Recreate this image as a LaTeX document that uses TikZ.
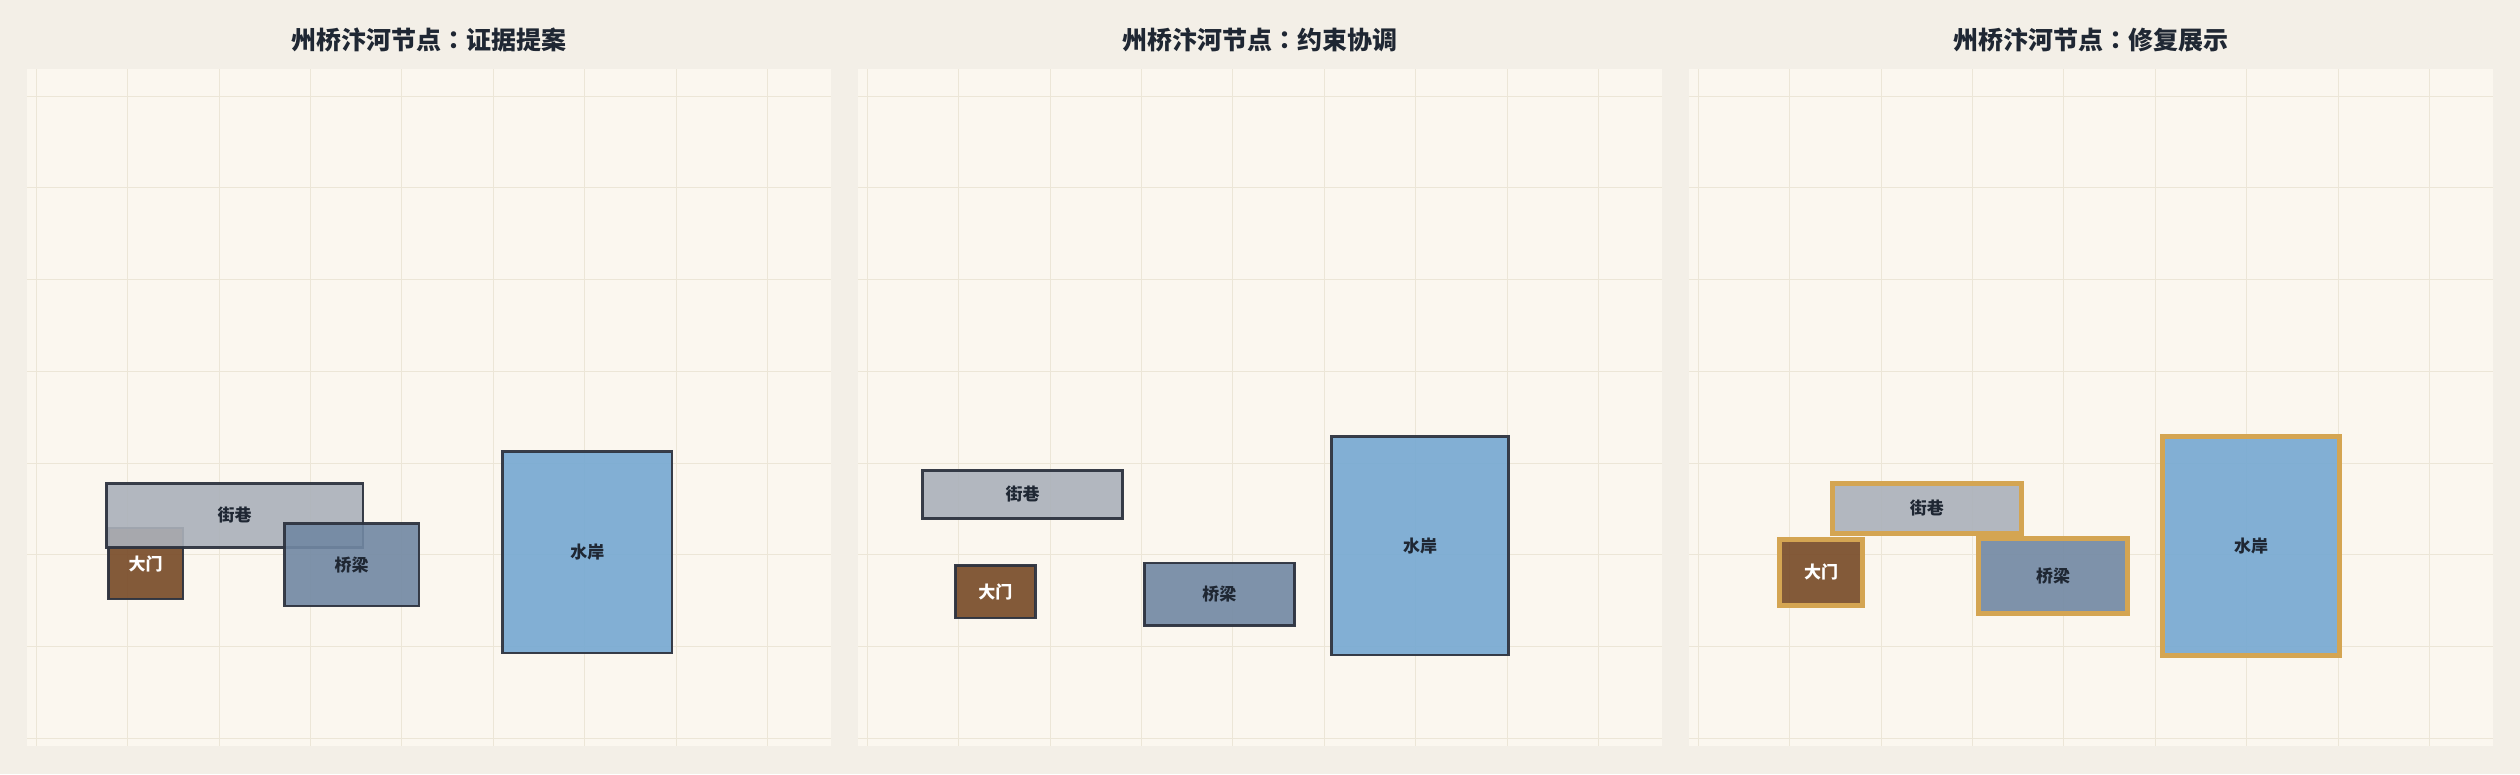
\documentclass[tikz,border=0pt]{standalone}
\usepackage{fontspec}
\newfontfamily\cjk{Noto Sans CJK SC}
\newfontfamily\cjktc{Noto Sans CJK TC}
\usetikzlibrary{positioning}

\definecolor{paper}{HTML}{F3EFE7}
\definecolor{sheet}{HTML}{FBF7EF}
\definecolor{gridline}{HTML}{ECE6D7}
\definecolor{ink}{HTML}{1F2733}
\definecolor{edge}{HTML}{2E3440}
\definecolor{gold}{HTML}{D4A552}
\definecolor{lanec}{HTML}{ABB1BA}
\definecolor{gatec}{HTML}{774926}
\definecolor{bridgec}{HTML}{7188A3}
\definecolor{shorec}{HTML}{75A8D2}

\begin{document}
\begin{tikzpicture}[x=1pt, y=-1pt,
    title/.style  = {font=\cjk\bfseries\fontsize{25}{25}\selectfont, text=ink},
    block/.style  = {rectangle, draw=edge, line width=2.5pt, inner sep=0pt,
      fill opacity=0.9, draw opacity=0.95, text opacity=1,
      font=\cjk\bfseries\fontsize{17}{17}\selectfont, text=ink},
    fixed/.style  = {draw=gold, line width=5pt, draw opacity=1},
    lane/.style   = {block, fill=lanec},
    gate/.style   = {block, fill=gatec, text=white},
    bridge/.style = {block, fill=bridgec},
    shore/.style  = {block, fill=shorec}
  ]
  \fill[paper] (0,0) rectangle (2520,774);
  \foreach \px/\name [count=\i] in {27/证据提案, 858/约束协调, 1689/修复展示} {
    \fill[sheet] (\px,69) rectangle ++(804,677);
    \foreach \k in {0,...,8}
      \draw[gridline, line width=1pt] (\px+9.3+\k*91.4,69) -- ++(0,677);
    \foreach \k in {0,...,7}
      \draw[gridline, line width=1pt] (\px,96.2+\k*91.7) -- ++(804,0);
    \node[title] (title\i) at (\px+402,40) {州桥汴河节点{\cjktc ：}\name};
  }

  % evidence
  \node[gate, minimum width=74.5, minimum height=71.1] (gate1) at (145.5,563.5) {大门};
  \node[lane, minimum width=256.5, minimum height=63.9] (lane1) at (234.5,515.5) {街巷};
  \node[bridge, minimum width=134.2, minimum height=82.5] (bridge1) at (351.7,564.8) {桥梁};
  \node[shore, minimum width=169.5, minimum height=201.2] (shore1) at (587.3,552.2) {水岸};

  % constraints
  \node[lane, minimum width=200, minimum height=48.2] (lane2) at (1022.7,494.4) {街巷};
  \node[gate, minimum width=80.1, minimum height=52.5] (gate2) at (995.3,591.5) {大门};
  \node[bridge, minimum width=150.3, minimum height=62.6] (bridge2) at (1219.4,594.3) {桥梁};
  \node[shore, minimum width=176.9, minimum height=218.2] (shore2) at (1420,545.7) {水岸};

  % repair
  \node[lane, fixed, minimum width=188.7, minimum height=49.7] (lane3) at (1926.9,508.4) {街巷};
  \node[gate, fixed, minimum width=83, minimum height=65.7] (gate3) at (1821,572.3) {大门};
  \node[bridge, fixed, minimum width=149, minimum height=74.7] (bridge3) at (2053,575.9) {桥梁};
  \node[shore, fixed, minimum width=177, minimum height=219] (shore3) at (2251,546) {水岸};
\end{tikzpicture}
\end{document}
